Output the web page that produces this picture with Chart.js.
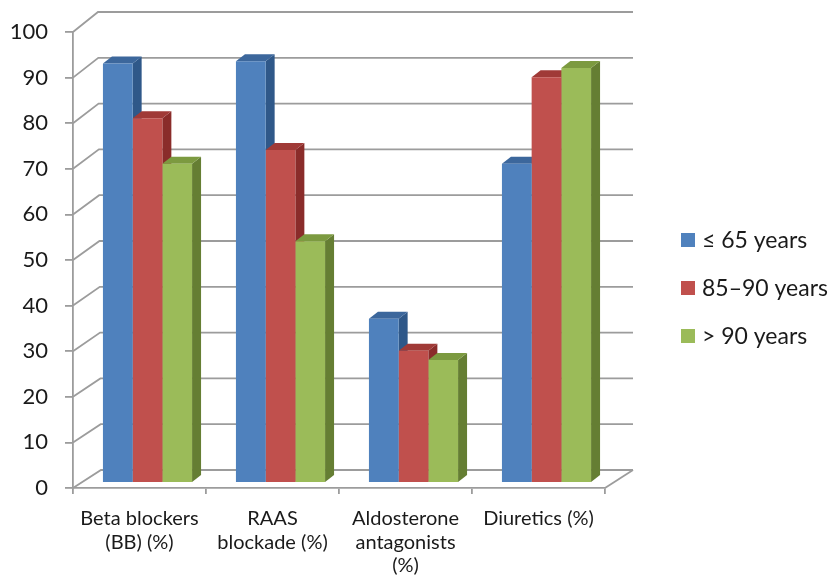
<!DOCTYPE html>
<html>
<head>
<meta charset="utf-8">
<script src="https://cdn.jsdelivr.net/npm/chart.js@4/dist/chart.umd.min.js"></script>
<style>
  html, body { margin: 0; padding: 0; background: #ffffff; }
  #wrap { width: 834px; height: 575px; }
</style>
</head>
<body>
<div id="wrap"><canvas id="chart" width="834" height="575"></canvas></div>
<script>
// Medication use by age group (%)
const categories = [
  ['Beta blockers', '(BB) (%)'],
  ['RAAS', 'blockade (%)'],
  ['Aldosterone', 'antagonists', '(%)'],
  ['Diuretics (%)']
];
const seriesNames = ['\u2264 65 years', '85\u201390 years', '> 90 years'];
const upTo65 = [92, 92.5, 36, 70];
const age85to90 = [80, 73, 29, 89];
const over90 = [70, 53, 27, 91];
const yTickValues = [0, 10, 20, 30, 40, 50, 60, 70, 80, 90, 100];

// face colours: front, top, side
const palette = [
  { front: '#4F81BD', top: '#3C679C', side: '#2F5889' },
  { front: '#C0504D', top: '#A03A37', side: '#8A2C2A' },
  { front: '#9BBB59', top: '#7C9A40', side: '#657E33' }
];

const FONT = 'Lato, "Open Sans", sans-serif';
const GRID = '#9c9c9c';
const BAR_SHIFT = { x: 8, y: -5 };    // bars sit a little behind the front plane
const BAR_DEPTH = { x: 9, y: -7 };    // visible depth of each bar

// depth of the walls, slightly foreshortened toward the top
function wallDepth(t) {
  return { x: 28 - 3 * t, y: -18 - 2 * t };
}

const depthPlugin = {
  id: 'depth3d',
  beforeDraw(chart) {
    const { ctx, chartArea: a, scales } = chart;
    const y = scales.y;
    ctx.save();
    ctx.strokeStyle = GRID;
    ctx.lineWidth = 1.8;
    ctx.lineCap = 'butt';
    const backRight = a.right + 28;
    yTickValues.forEach(v => {
      const t = v / 100;
      const d = wallDepth(t);
      const py = y.getPixelForValue(v);
      // side wall diagonal
      ctx.beginPath();
      ctx.moveTo(a.left, py);
      ctx.lineTo(a.left + d.x, py + d.y);
      // back wall gridline
      ctx.lineTo(backRight, py + d.y);
      ctx.stroke();
    });
    // right floor edge
    const d0 = wallDepth(0);
    ctx.beginPath();
    ctx.moveTo(a.right, a.bottom);
    ctx.lineTo(a.right + d0.x, a.bottom + d0.y);
    ctx.stroke();
    ctx.restore();
  },
  beforeDatasetsDraw(chart) {
    const ctx = chart.ctx;
    ctx.save();
    ctx.translate(BAR_SHIFT.x, BAR_SHIFT.y);
    const bars = [];
    chart.data.datasets.forEach((ds, i) => {
      const meta = chart.getDatasetMeta(i);
      meta.data.forEach(el => {
        const p = el.getProps(['x', 'y', 'base', 'width'], true);
        bars.push({ p, c: palette[i] });
      });
    });
    const dx = BAR_DEPTH.x, dy = BAR_DEPTH.y;
    // side faces first, then tops; Chart.js paints the fronts over them
    bars.forEach(({ p, c }) => {
      const r = p.x + p.width / 2;
      ctx.fillStyle = c.side;
      ctx.beginPath();
      ctx.moveTo(r, p.y);
      ctx.lineTo(r + dx, p.y + dy);
      ctx.lineTo(r + dx, p.base + dy);
      ctx.lineTo(r, p.base);
      ctx.closePath();
      ctx.fill();
    });
    bars.forEach(({ p, c }) => {
      const l = p.x - p.width / 2, r = p.x + p.width / 2;
      ctx.fillStyle = c.top;
      ctx.beginPath();
      ctx.moveTo(l, p.y);
      ctx.lineTo(r, p.y);
      ctx.lineTo(r + dx, p.y + dy);
      ctx.lineTo(l + dx, p.y + dy);
      ctx.closePath();
      ctx.fill();
    });
  },
  afterDatasetsDraw(chart) {
    chart.ctx.restore();
  },
  afterDraw(chart) {
    // legend at the right
    const ctx = chart.ctx;
    ctx.save();
    ctx.font = '23px ' + FONT;
    ctx.textBaseline = 'middle';
    ctx.textAlign = 'left';
    chart.data.datasets.forEach((ds, i) => {
      const cy = 240 + i * 48;
      ctx.fillStyle = ds.backgroundColor;
      ctx.fillRect(681, cy - 7, 14, 14);
      ctx.fillStyle = '#1a1a1a';
      ctx.fillText(ds.label, 702, cy + 1);
    });
    ctx.restore();
  }
};

const seriesValues = [upTo65, age85to90, over90];

new Chart(document.getElementById('chart'), {
  type: 'bar',
  data: {
    labels: categories,
    datasets: seriesValues.map((vals, i) => ({
      label: seriesNames[i],
      data: vals,
      backgroundColor: palette[i].front,
      borderWidth: 0,
      categoryPercentage: 0.67,
      barPercentage: 1.0,
      clip: false
    }))
  },
  options: {
    responsive: false,
    animation: false,
    events: [],
    layout: { padding: { left: 0, right: 229, top: 32, bottom: 0 } },
    plugins: {
      legend: { display: false },
      tooltip: { enabled: false }
    },
    scales: {
      x: {
        grid: {
          offset: true,
          drawOnChartArea: false,
          drawTicks: true,
          tickLength: 6,
          color: GRID,
          lineWidth: 1.8
        },
        border: { display: true, color: GRID, width: 1.8 },
        ticks: {
          color: '#1a1a1a',
          font: { family: FONT, size: 20, lineHeight: 1.17 },
          padding: 13,
          maxRotation: 0,
          autoSkip: false
        },
        afterFit(scale) { scale.height = 87; }
      },
      y: {
        min: 0,
        max: 100,
        afterBuildTicks(scale) { scale.ticks = yTickValues.map(v => ({ value: v })); },
        grid: {
          drawOnChartArea: false,
          drawTicks: true,
          tickLength: 8,
          color: GRID,
          lineWidth: 1.8
        },
        border: { display: true, color: GRID, width: 1.8 },
        ticks: {
          color: '#1a1a1a',
          font: { family: FONT, size: 22 },
          padding: 17
        },
        afterFit(scale) { scale.width = 73; }
      }
    }
  },
  plugins: [depthPlugin]
});
</script>
</body>
</html>
